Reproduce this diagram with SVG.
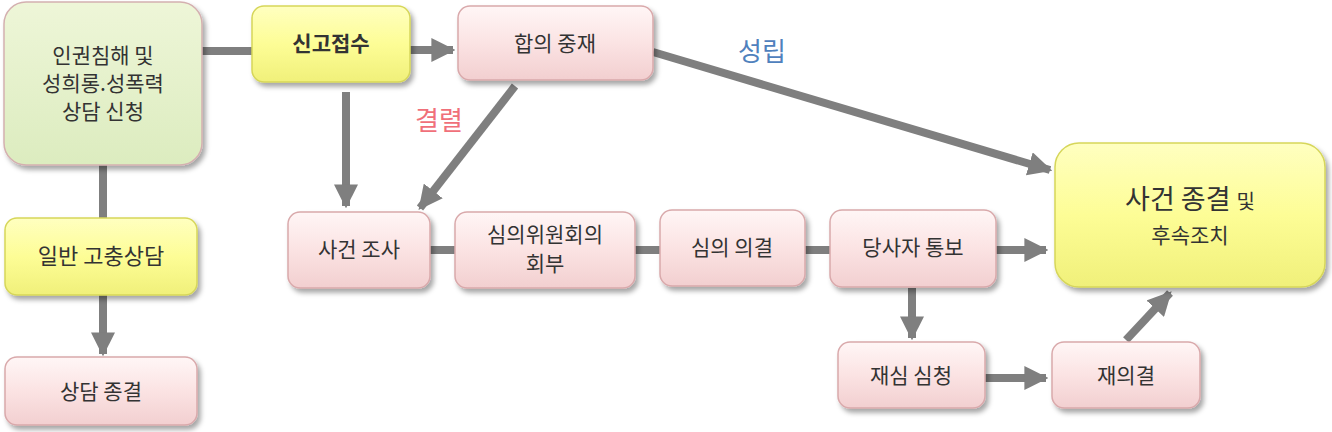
<svg xmlns="http://www.w3.org/2000/svg" width="1332" height="432" viewBox="0 0 1332 432">
<defs>
<linearGradient id="gp" x1="0" y1="0" x2="0" y2="1"><stop offset="0" stop-color="#fff6f6"/><stop offset="0.5" stop-color="#fbe3e3"/><stop offset="1" stop-color="#f2cfd0"/></linearGradient>
<linearGradient id="gy" x1="0" y1="0" x2="0" y2="1"><stop offset="0" stop-color="#ffffc0"/><stop offset="0.5" stop-color="#fdfd96"/><stop offset="1" stop-color="#f0f07a"/></linearGradient>
<linearGradient id="gg" x1="0" y1="0" x2="0" y2="1"><stop offset="0" stop-color="#eef6d8"/><stop offset="1" stop-color="#dcecbf"/></linearGradient>
<filter id="sh" x="-10%" y="-10%" width="130%" height="130%"><feDropShadow dx="3" dy="4" stdDeviation="2.5" flood-color="#000" flood-opacity="0.35"/></filter>
<marker id="ah" viewBox="0 0 10 10" refX="9" refY="5" markerWidth="3" markerHeight="3" orient="auto"><path d="M0,0 L10,5 L0,10 z" fill="#7f7f7f"/></marker>
<style>
.p{fill:url(#gp);stroke:#d9a9ab;stroke-width:1.5;filter:url(#sh)}
.y{fill:url(#gy);stroke:#d6d65a;stroke-width:1.5;filter:url(#sh)}
.g{fill:url(#gg);stroke:#d4b0b0;stroke-width:1.5;filter:url(#sh)}
text{font-family:"Noto Sans CJK KR","Noto Sans",sans-serif;fill:#333;text-anchor:middle}
.t{font-size:21px}
.c line{stroke:#7f7f7f;stroke-width:8;fill:none}
</style>
</defs>
<g class="c">
<line x1="202" y1="51" x2="252" y2="51"/>
<line x1="410" y1="50" x2="453" y2="50" marker-end="url(#ah)"/>
<line x1="346" y1="92" x2="346" y2="206" marker-end="url(#ah)"/>
<line x1="515" y1="86" x2="420" y2="208" marker-end="url(#ah)"/>
<line x1="653" y1="52" x2="1050" y2="170" marker-end="url(#ah)"/>
<line x1="430" y1="250" x2="830" y2="250"/>
<line x1="996" y1="250" x2="1046" y2="250" marker-end="url(#ah)"/>
<line x1="912" y1="288" x2="912" y2="338" marker-end="url(#ah)"/>
<line x1="985" y1="378" x2="1046" y2="378" marker-end="url(#ah)"/>
<line x1="1126" y1="340" x2="1170" y2="293" marker-end="url(#ah)"/>
<line x1="103" y1="165" x2="103" y2="218"/>
<line x1="103" y1="295" x2="103" y2="354" marker-end="url(#ah)"/>
</g>
<text x="762" y="61" style="font-size:26px;fill:#4f81bd">성립</text>
<text x="439" y="130" style="font-size:26px;fill:#f0707a">결렬</text>
<g id="n1" class="t"><rect class="g" x="4" y="2" width="198" height="163" rx="22"/><text x="103" y="63">인권침해 및</text><text x="103" y="91">성희롱.성폭력</text><text x="103" y="119">상담 신청</text></g>
<g id="n2" class="t"><rect class="y" x="252" y="6" width="158" height="76" rx="12"/><text x="331" y="51" font-weight="bold">신고접수</text></g>
<g id="n3" class="t"><rect class="p" x="458" y="6" width="195" height="74" rx="12"/><text x="555" y="51">합의 중재</text></g>
<g id="n4" class="t"><rect class="p" x="288" y="212" width="142" height="76" rx="12"/><text x="359" y="257">사건 조사</text></g>
<g id="n5" class="t"><rect class="p" x="455" y="212" width="180" height="76" rx="12"/><text x="545" y="242">심의위원회의</text><text x="545" y="271">회부</text></g>
<g id="n6" class="t"><rect class="p" x="660" y="210" width="145" height="76" rx="12"/><text x="732" y="255">심의 의결</text></g>
<g id="n7" class="t"><rect class="p" x="830" y="210" width="166" height="77" rx="12"/><text x="913" y="255">당사자 통보</text></g>
<g id="n8" class="t"><rect class="y" x="1055" y="143" width="270" height="144" rx="24"/><text x="1190" y="209" style="font-size:27px">사건 종결 <tspan style="font-size:20px">및</tspan></text><text x="1190" y="243">후속조치</text></g>
<g id="n9" class="t"><rect class="y" x="5" y="218" width="192" height="77" rx="12"/><text x="101" y="264" style="font-size:22px">일반 고충상담</text></g>
<g id="n10" class="t"><rect class="p" x="5" y="357" width="192" height="68" rx="12"/><text x="101" y="399">상담 종결</text></g>
<g id="n11" class="t"><rect class="p" x="838" y="342" width="147" height="66" rx="12"/><text x="911" y="383">재심 심청</text></g>
<g id="n12" class="t"><rect class="p" x="1052" y="342" width="148" height="66" rx="12"/><text x="1126" y="383">재의결</text></g>
</svg>
